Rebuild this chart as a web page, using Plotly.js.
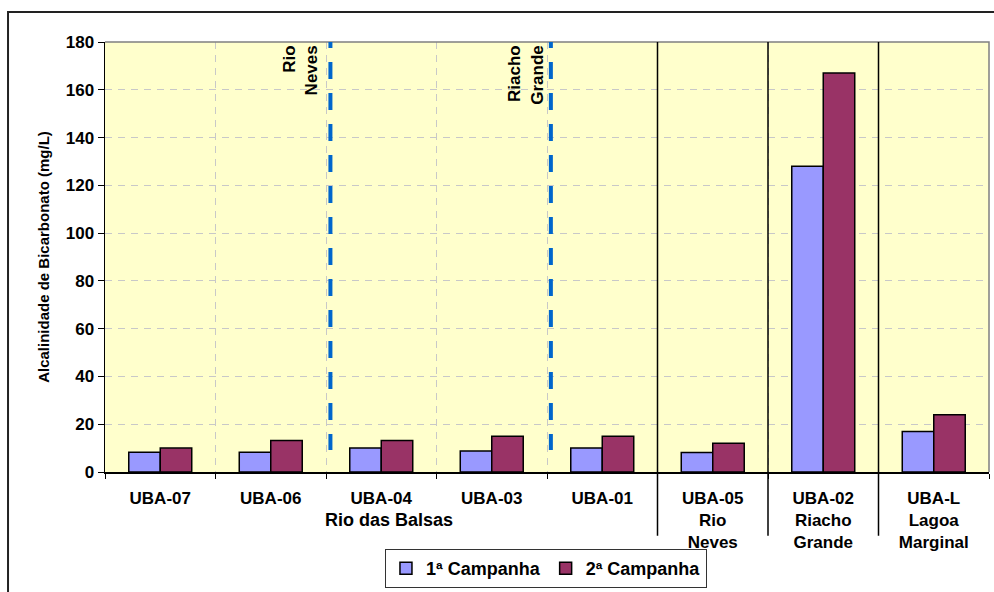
<!DOCTYPE html>
<html>
<head>
<meta charset="utf-8">
<script src="https://cdn.plot.ly/plotly-3.0.1.min.js"></script>
<style>
  html, body { margin: 0; padding: 0; background: #ffffff; }
  #chart { width: 994px; height: 592px; }
</style>
</head>
<body>
<div id="chart"></div>
<script>
// Sampling stations along the river and its tributaries
const categories = ['UBA-07', 'UBA-06', 'UBA-04', 'UBA-03', 'UBA-01', 'UBA-05', 'UBA-02', 'UBA-L'];
const tickLabels = ['UBA-07', 'UBA-06', 'UBA-04', 'UBA-03', 'UBA-01',
  'UBA-05<br>Rio<br>Neves', 'UBA-02<br>Riacho<br>Grande', 'UBA-L<br>Lagoa<br>Marginal'];

// Bicarbonate alkalinity (mg/L) per campaign
const campanha1 = [8.3, 8.3, 10, 8.8, 10, 8.2, 128, 17];
const campanha2 = [10, 13.2, 13.2, 15, 15, 12, 167, 24];

const seriesNames = ['1ª Campanha', '2ª Campanha'];
const yTicks = [0, 20, 40, 60, 80, 100, 120, 140, 160, 180];

// Tributary confluences marked on the main river, and group separators
const confluences = [
  {x: 1.54, label: 'Rio<br>Neves', labelX: 1.47},
  {x: 3.535, label: 'Riacho<br>Grande', labelX: 3.51}
];
const groupSeparators = [4.5, 5.5, 6.5];
const mainRiverLabel = 'Rio das Balsas';

const FONT = '"Liberation Sans", Arial, Helvetica, sans-serif';

const traces = [
  {
    type: 'bar', name: seriesNames[0], x: categories, y: campanha1,
    marker: {color: '#9999FF', line: {color: '#000000', width: 1.5}}
  },
  {
    type: 'bar', name: seriesNames[1], x: categories, y: campanha2,
    marker: {color: '#993366', line: {color: '#000000', width: 1.5}}
  }
];

const shapes = [];
// outer chart frame (left and top edges visible)
shapes.push({type: 'path', xref: 'paper', yref: 'paper', layer: 'above',
  path: 'M -0.1097,-0.4 L -0.1097,1.0696 L 1.2,1.0696',
  line: {color: '#222222', width: 2}});
// plot-area border on the top and right
shapes.push({type: 'path', xref: 'paper', yref: 'paper', layer: 'above',
  path: 'M 0,1 L 1,1 L 1,0',
  line: {color: '#808080', width: 1.5}});
// solid separators between station groups, reaching down through the labels
groupSeparators.forEach(function (sx) {
  shapes.push({type: 'line', xref: 'x', yref: 'paper', layer: 'above',
    x0: sx, x1: sx, y0: 1, y1: -0.1485,
    line: {color: '#000000', width: 1.5}});
});
// dashed blue confluence markers
confluences.forEach(function (c) {
  shapes.push({type: 'line', xref: 'x', yref: 'y', layer: 'above',
    x0: c.x, x1: c.x, y0: 184.6, y1: 9.2,
    line: {color: '#0066CC', width: 4, dash: '17px,14px'}});
});

const annotations = [];
confluences.forEach(function (c) {
  annotations.push({xref: 'x', yref: 'y', x: c.labelX, y: 179.5,
    xanchor: 'right', yanchor: 'top', text: c.label, textangle: -90,
    align: 'right', showarrow: false,
    font: {family: FONT, size: 17, weight: 'bold', color: '#000000'}});
});
annotations.push({xref: 'x', yref: 'paper', x: 2.07, y: -0.112,
  xanchor: 'center', yanchor: 'middle', text: mainRiverLabel, showarrow: false,
  font: {family: FONT, size: 18, weight: 'bold', color: '#000000'}});

const layout = {
  width: 994, height: 592,
  margin: {l: 105, r: 5, t: 42, b: 119},
  paper_bgcolor: '#ffffff',
  plot_bgcolor: '#FFFFCC',
  font: {family: FONT, size: 17, weight: 'bold', color: '#000000'},
  barmode: 'group',
  bargap: 0.43,
  bargroupgap: 0,
  showlegend: true,
  legend: {
    orientation: 'h', x: 0.3167, y: -0.2668, xanchor: 'left', yanchor: 'bottom',
    bgcolor: '#ffffff', bordercolor: '#333333', borderwidth: 1,
    font: {family: FONT, size: 18, weight: 'bold', color: '#000000'},
    itemwidth: 30, tracegroupgap: 0
  },
  xaxis: {
    type: 'category', range: [-0.5, 7.5],
    tickmode: 'array', tickvals: categories, ticktext: tickLabels,
    tickson: 'boundaries', ticks: 'outside', ticklen: 5, tickcolor: '#000000', tickwidth: 1,
    showline: true, linecolor: '#000000', linewidth: 1.5,
    showgrid: true, gridcolor: '#C8C8C8', gridwidth: 1, griddash: '7px,6px',
    tickfont: {family: FONT, size: 17, weight: 'bold', color: '#000000'},
    ticklabelstandoff: 10,
    fixedrange: true
  },
  yaxis: {
    range: [0, 180], tickmode: 'array', tickvals: yTicks,
    ticks: 'outside', ticklen: 6, tickcolor: '#000000', tickwidth: 1,
    showline: true, linecolor: '#000000', linewidth: 1.5,
    zeroline: false,
    showgrid: true, gridcolor: '#C8C8C8', gridwidth: 1, griddash: '7px,6px',
    tickfont: {family: FONT, size: 17, weight: 'bold', color: '#000000'},
    title: {text: 'Alcalinidade de Bicarbonato (mg/L)', standoff: 12,
      font: {family: FONT, size: 15, weight: 'bold', color: '#000000'}},
    fixedrange: true
  },
  shapes: shapes,
  annotations: annotations
};

Plotly.newPlot('chart', traces, layout, {displayModeBar: false, staticPlot: true});
</script>
</body>
</html>
